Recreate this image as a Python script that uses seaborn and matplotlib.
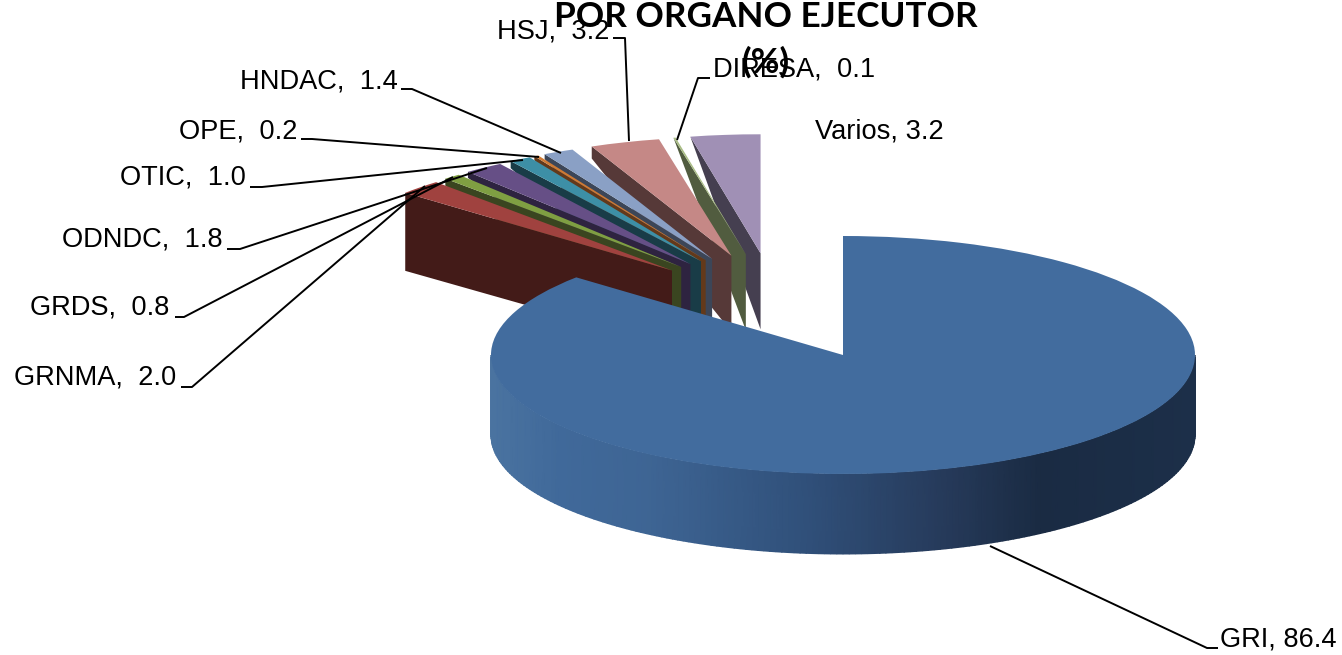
import numpy as np
import matplotlib
matplotlib.use("Agg")
import matplotlib.pyplot as plt
from matplotlib.colors import LinearSegmentedColormap
from matplotlib.patches import Polygon
import seaborn as sns

# ---- data ----
organos = ["GRI", "GRNMA", "GRDS", "ODNDC", "OTIC", "OPE", "HNDAC", "HSJ", "DIRESA", "Varios"]
valores = [86.4, 2.0, 0.8, 1.8, 1.0, 0.2, 1.4, 3.2, 0.1, 3.2]
titulo = "POR ORGANO EJECUTOR\n(%)"

# ---- styles ----
top_colors = ["#426c9e", "#a0423f", "#7f9f42", "#664f86", "#3d8fa6", "#cf7a34",
              "#8aa0c5", "#c58886", "#a9bd85", "#a090b5"]
face_colors = [None, "#431b18", "#3a4520", "#2e2340", "#193c47", "#63391a",
               "#3c4658", "#563938", "#515c3f", "#453f50"]
rim_drop = [0, 78, 7, 6, 7, 4, 5, 12, 0, 0]
wall_px = [491, 560, 648, 807, 947, 1040, 1195]
wall_stops = ["#4a73a0", "#40699a", "#3e6594", "#30507a", "#263a5a", "#1a2b43", "#1c2f49"]

W, H = 1342, 655
CX, CY = 843.0, 355.0        # centre of the main slice, pixels
RX, RY = 352.0, 119.0        # ellipse radii, pixels
DEPTH = 80.0
GX, GY, GA, GB = 775.0, 311.0, 144.0, 58.0  # exploded group
GDEPTH = 76.0


def P(px, py):
    """pixel position -> data coordinates (unit-circle pie space)"""
    return (px - CX) / RX, (CY - py) / RY


sns.set_theme(style="white")
fig = plt.figure(figsize=(W / 100, H / 100), dpi=100)
ax = fig.add_axes([0, 0, 1, 1])

wedges, _ = ax.pie(valores, colors=top_colors, startangle=90, counterclock=False,
                   radius=1, wedgeprops={"linewidth": 0})
ax.set_aspect("auto")
ax.set_xlim(P(0, 0)[0], P(W, 0)[0])
ax.set_ylim(P(0, H)[1], P(0, 0)[1])
ax.axis("off")

frac = np.array(valores) / np.sum(valores)
edges = np.concatenate([[0], np.cumsum(frac)]) * 2 * np.pi

for i in range(1, len(valores)):
    a0, a1 = edges[i], edges[i + 1]
    mid = 0.5 * (a0 + a1)
    ax_px = GX + GA * np.sin(mid)
    ay_px = GY - GB * np.cos(mid)
    c = P(ax_px, ay_px)
    wedges[i].set_center(c)
    base = 10 + (len(valores) - i) * 2
    wedges[i].set_zorder(base + 1)
    rim = (c[0] + np.sin(a0), c[1] + np.cos(a0))
    dy = GDEPTH / RY
    drop = rim_drop[i] / RY
    face = Polygon([rim, c, (c[0], c[1] - dy), (rim[0], rim[1] - drop)],
                   closed=True, facecolor=face_colors[i], edgecolor="none", zorder=base)
    ax.add_patch(face)

# main slice: gradient outer wall, then the top
theta = np.linspace(np.pi / 2, 3 * np.pi / 2, 181)
xs = np.sin(theta)
X = np.vstack([xs, xs])
Y = np.vstack([np.cos(theta), np.cos(theta) - DEPTH / RY])
C = np.vstack([xs, xs])
pos = (np.array(wall_px) - wall_px[0]) / (wall_px[-1] - wall_px[0])
cmap = LinearSegmentedColormap.from_list("wall", list(zip(pos, wall_stops)))
ax.pcolormesh(X, Y, C, cmap=cmap, shading="gouraud", vmin=-1, vmax=1, zorder=40)
wedges[0].set_zorder(41)

# leader lines
leaders = [
    [(401, 89), (412, 89), (561, 153)],
    [(301, 139), (312, 139), (539, 157)],
    [(250, 187), (262, 187), (523, 160)],
    [(227, 249), (240, 249), (487, 168)],
    [(175, 317), (184, 317), (453, 177)],
    [(181, 387), (192, 387), (425, 186)],
    [(613, 38), (625, 38), (629, 141)],
    [(710, 78), (698, 78), (677, 140)],
    [(1218, 648), (1207, 648), (990, 546)],
]
for pts in leaders:
    xy = np.array([P(*p) for p in pts])
    ax.plot(xy[:, 0], xy[:, 1], color="black", lw=1.4, zorder=50, solid_capstyle="butt")

# data labels
label_pos = {
    "HNDAC": (398, 82, "right"), "OPE": (297, 132, "right"), "OTIC": (246, 178, "right"),
    "ODNDC": (223, 240, "right"), "GRDS": (169, 308, "right"), "GRNMA": (176, 378, "right"),
    "HSJ": (497, 31, "left"), "DIRESA": (713, 69, "left"),
    "Varios": (815, 132, "left"), "GRI": (1220, 639, "left"),
}
for name, val in zip(organos, valores):
    px, py, ha = label_pos[name]
    sep = ", " if name in ("Varios", "GRI") else ",  "
    x, y = P(px, py)
    ax.text(x, y, f"{name}{sep}{val:.1f}", ha=ha, va="center", color="black",
            fontsize=19.6, family="Liberation Sans", zorder=60)

x, y = P(766, 40)
ax.text(x, y, titulo, ha="center", va="center", fontsize=25.3, fontweight="bold",
        family="Lato", color="black", linespacing=1.5, zorder=70)

fig.savefig("out.png", dpi=100, facecolor="white")
